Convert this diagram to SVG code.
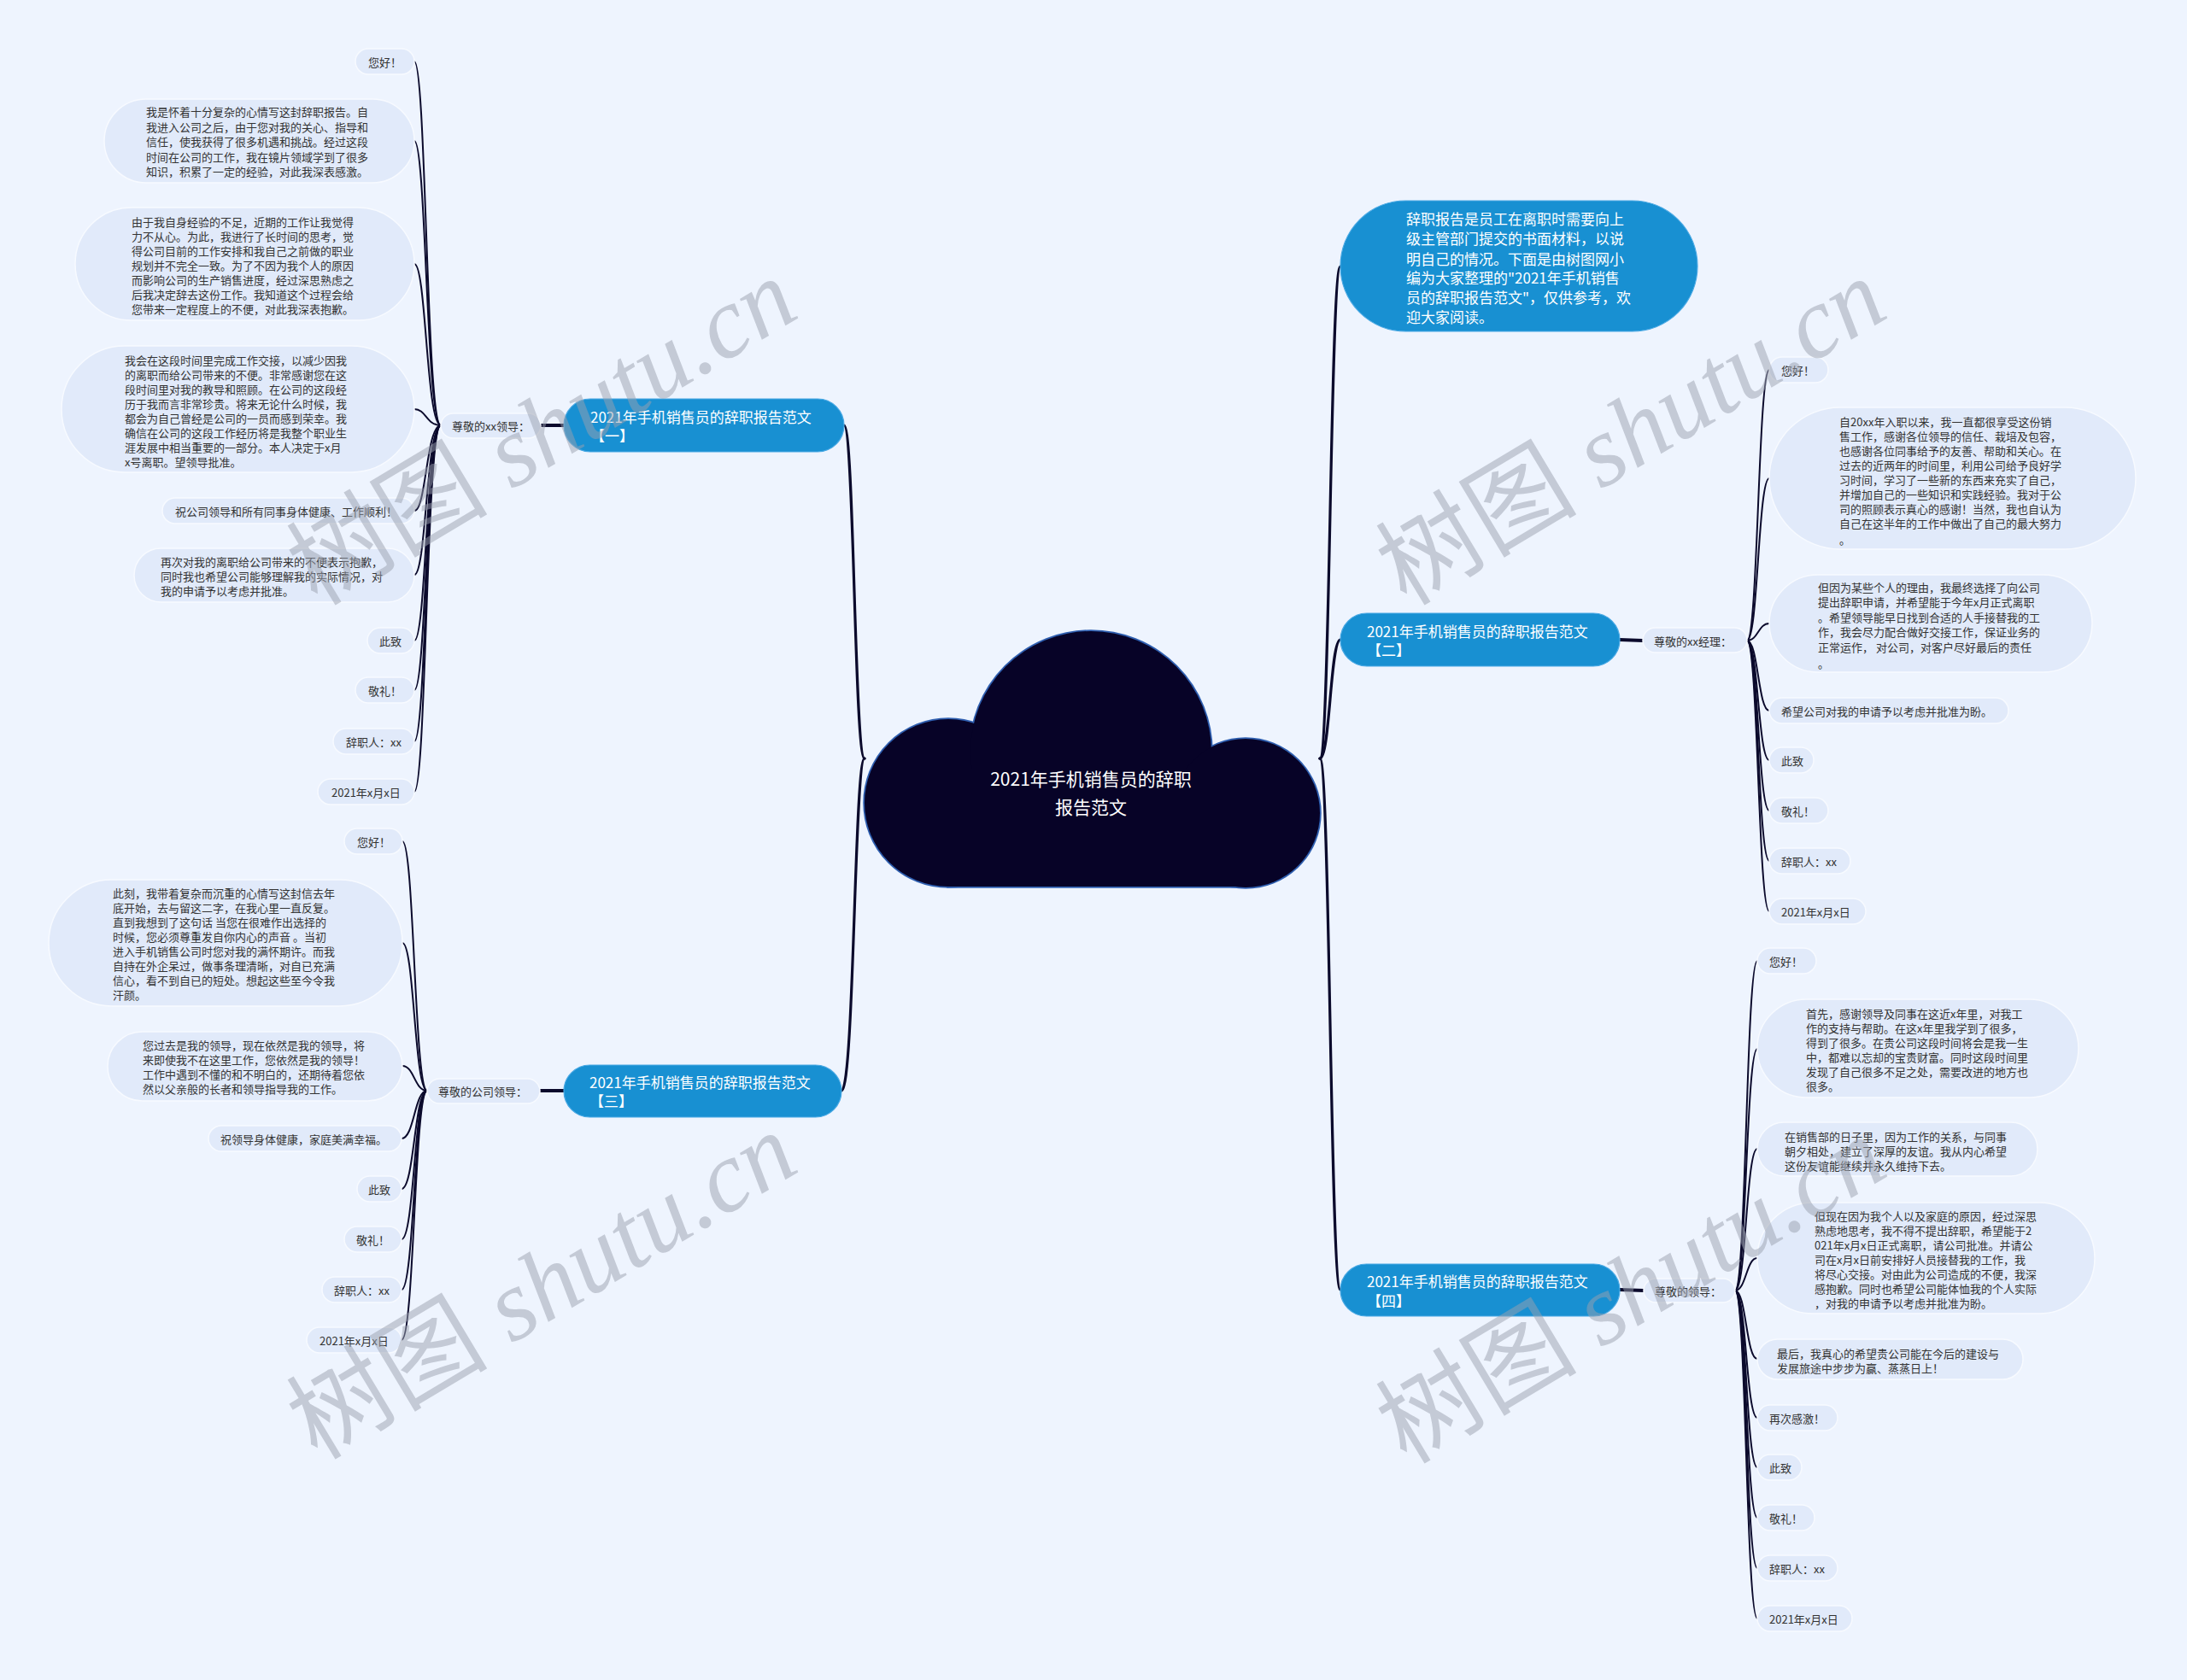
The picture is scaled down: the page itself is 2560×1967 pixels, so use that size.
<svg xmlns="http://www.w3.org/2000/svg" width="2560" height="1967" viewBox="0 0 2560 1967">
<style>
.bg{fill:#EEF4FE}
.leaf{fill:#E1EAFA;stroke:#F7FAFF;stroke-width:1.5}
.lt{font-family:"Noto Sans CJK SC","Noto Sans",sans-serif;font-size:13px;fill:#333333;dominant-baseline:central}
.main{fill:#1890D2;stroke:#48A8E4;stroke-width:1.2}
.mt{font-family:"Noto Sans CJK SC","Noto Sans",sans-serif;font-size:17px;fill:#FFFFFF;dominant-baseline:central}
.ct{font-family:"Noto Sans CJK SC","Noto Sans",sans-serif;font-size:21px;fill:#FFFFFF;dominant-baseline:central;text-anchor:middle}
.c1{fill:none;stroke:#0B0A2C;stroke-width:3.2;stroke-linecap:round}
.c2{fill:none;stroke:#0B0A2C;stroke-width:2;stroke-linecap:round}
.c3{fill:none;stroke:#0B0A2C;stroke-width:4}
.wm{font-family:"Liberation Serif","Noto Sans CJK SC",serif;font-size:118px;fill:#9AA0AE;fill-opacity:0.5;text-anchor:middle}
</style>
<rect class="bg" x="0" y="0" width="2560" height="1967"/>

<g id="connectors">
  <path class="c1" d="M1012 888 C1000 888 1000 498 988 498"/>
  <path class="c1" d="M1012 888 C1000 888 1000 1277 985 1277"/>
  <path class="c1" d="M1545 888 C1557 888 1557 312 1569 312"/>
  <path class="c1" d="M1545 888 C1557 888 1557 749 1569 749"/>
  <path class="c1" d="M1545 888 C1557 888 1557 1510 1569 1510"/>
  <path class="c3" d="M660 498 L633 498"/>
  <path class="c3" d="M660 1277 L632 1277"/>
  <path class="c3" d="M1896 749 L1923 750"/>
  <path class="c3" d="M1896 1510 L1924 1511"/>
  <path class="c2" d="M516 498 C499 498 499 72 485 72"/>
  <path class="c2" d="M516 498 C499 498 499 165 485 165"/>
  <path class="c2" d="M516 498 C499 498 499 309 485 309"/>
  <path class="c2" d="M516 498 C499 498 499 479 485 479"/>
  <path class="c2" d="M516 498 C499 498 499 598 485 598"/>
  <path class="c2" d="M516 498 C499 498 499 673 485 673"/>
  <path class="c2" d="M516 498 C499 498 499 750 485 750"/>
  <path class="c2" d="M516 498 C499 498 499 808 485 808"/>
  <path class="c2" d="M516 498 C499 498 499 868 485 868"/>
  <path class="c2" d="M516 498 C499 498 499 927 485 927"/>
  <path class="c2" d="M500 1277 C485 1277 485 985 471 985"/>
  <path class="c2" d="M500 1277 C485 1277 485 1104 471 1104"/>
  <path class="c2" d="M500 1277 C485 1277 485 1248 471 1248"/>
  <path class="c2" d="M500 1277 C485 1277 485 1333 470 1333"/>
  <path class="c2" d="M500 1277 C485 1277 485 1392 470 1392"/>
  <path class="c2" d="M500 1277 C485 1277 485 1451 470 1451"/>
  <path class="c2" d="M500 1277 C485 1277 485 1510 470 1510"/>
  <path class="c2" d="M500 1277 C485 1277 485 1569 470 1569"/>
  <path class="c2" d="M2045 750 C2058 750 2058 433 2071 433"/>
  <path class="c2" d="M2045 750 C2058 750 2058 560 2071 560"/>
  <path class="c2" d="M2045 750 C2058 750 2058 730 2071 730"/>
  <path class="c2" d="M2045 750 C2058 750 2058 832 2071 832"/>
  <path class="c2" d="M2045 750 C2058 750 2058 890 2071 890"/>
  <path class="c2" d="M2045 750 C2058 750 2058 949 2071 949"/>
  <path class="c2" d="M2045 750 C2058 750 2058 1008 2071 1008"/>
  <path class="c2" d="M2045 750 C2058 750 2058 1067 2071 1067"/>
  <path class="c2" d="M2031 1511 C2044 1511 2044 1125 2057 1125"/>
  <path class="c2" d="M2031 1511 C2044 1511 2044 1228 2057 1228"/>
  <path class="c2" d="M2031 1511 C2044 1511 2044 1345 2057 1345"/>
  <path class="c2" d="M2031 1511 C2044 1511 2044 1473 2057 1473"/>
  <path class="c2" d="M2031 1511 C2044 1511 2044 1591 2057 1591"/>
  <path class="c2" d="M2031 1511 C2044 1511 2044 1660 2057 1660"/>
  <path class="c2" d="M2031 1511 C2044 1511 2044 1718 2057 1718"/>
  <path class="c2" d="M2031 1511 C2044 1511 2044 1777 2057 1777"/>
  <path class="c2" d="M2031 1511 C2044 1511 2044 1836 2057 1836"/>
  <path class="c2" d="M2031 1511 C2044 1511 2044 1895 2057 1895"/>
</g>

<g id="root">
  <g fill="#070327" stroke="#2F5FB0" stroke-width="3.5">
    <circle cx="1110" cy="940" r="98"/>
    <circle cx="1277" cy="880" r="141"/>
    <circle cx="1458" cy="952" r="87"/>
    <rect x="1110" y="900" width="348" height="138"/>
  </g>
  <g fill="#070327">
    <circle cx="1110" cy="940" r="98"/>
    <circle cx="1277" cy="880" r="141"/>
    <circle cx="1458" cy="952" r="87"/>
    <rect x="1110" y="900" width="348" height="138"/>
  </g>
  <text class="ct"><tspan x="1277" y="911">2021年手机销售员的辞职</tspan><tspan x="1277" y="944">报告范文</tspan></text>
</g>

<g id="intro">
  <rect class="main" x="1569" y="235" width="418" height="153" rx="76.5"/>
  <text class="mt"><tspan x="1646" y="255">辞职报告是员工在离职时需要向上</tspan><tspan x="1646" y="278">级主管部门提交的书面材料，以说</tspan><tspan x="1646" y="302">明自己的情况。下面是由树图网小</tspan><tspan x="1646" y="324">编为大家整理的"2021年手机销售</tspan><tspan x="1646" y="347">员的辞职报告范文"，仅供参考，欢</tspan><tspan x="1646" y="370">迎大家阅读。</tspan></text>
</g>

<g id="branch1">
  <rect class="main" x="660" y="467" width="328" height="62" rx="31"/>
  <text class="mt"><tspan x="691" y="487">2021年手机销售员的辞职报告范文</tspan><tspan x="691" y="509">【一】</tspan></text>
</g>
<g id="branch2">
  <rect class="main" x="1569" y="718" width="327" height="62" rx="31"/>
  <text class="mt"><tspan x="1600" y="738">2021年手机销售员的辞职报告范文</tspan><tspan x="1600" y="760">【二】</tspan></text>
</g>
<g id="branch3">
  <rect class="main" x="660" y="1247" width="325" height="61" rx="30.5"/>
  <text class="mt"><tspan x="690" y="1266">2021年手机销售员的辞职报告范文</tspan><tspan x="690" y="1288">【三】</tspan></text>
</g>
<g id="branch4">
  <rect class="main" x="1569" y="1480" width="327" height="61" rx="30.5"/>
  <text class="mt"><tspan x="1600" y="1499">2021年手机销售员的辞职报告范文</tspan><tspan x="1600" y="1522">【四】</tspan></text>
</g>

<g id="label1"><rect class="leaf" x="516" y="484" width="117" height="29" rx="14.5"/><text class="lt" x="529" y="498">尊敬的xx领导：</text></g>
<g id="label2"><rect class="leaf" x="1923" y="735" width="122" height="29" rx="14.5"/><text class="lt" x="1936" y="750">尊敬的xx经理：</text></g>
<g id="label3"><rect class="leaf" x="500" y="1263" width="132" height="29" rx="14.5"/><text class="lt" x="513" y="1277">尊敬的公司领导：</text></g>
<g id="label4"><rect class="leaf" x="1924" y="1497" width="107" height="28" rx="14"/><text class="lt" x="1937" y="1511">尊敬的领导：</text></g>

<g id="b1-l1"><rect class="leaf" x="416" y="57" width="69" height="30" rx="15"/><text class="lt" x="431" y="72">您好！</text></g>
<g id="b1-l2"><rect class="leaf" x="122" y="116" width="363" height="98" rx="49"/><text class="lt"><tspan x="171" y="130">我是怀着十分复杂的心情写这封辞职报告。自</tspan><tspan x="171" y="148">我进入公司之后，由于您对我的关心、指导和</tspan><tspan x="171" y="165">信任，使我获得了很多机遇和挑战。经过这段</tspan><tspan x="171" y="183">时间在公司的工作，我在镜片领域学到了很多</tspan><tspan x="171" y="200">知识，积累了一定的经验，对此我深表感激。</tspan></text></g>
<g id="b1-l3"><rect class="leaf" x="88" y="243" width="397" height="132" rx="66"/><text class="lt"><tspan x="154" y="259">由于我自身经验的不足，近期的工作让我觉得</tspan><tspan x="154" y="276">力不从心。为此，我进行了长时间的思考，觉</tspan><tspan x="154" y="293">得公司目前的工作安排和我自己之前做的职业</tspan><tspan x="154" y="310">规划并不完全一致。为了不因为我个人的原因</tspan><tspan x="154" y="327">而影响公司的生产销售进度，经过深思熟虑之</tspan><tspan x="154" y="344">后我决定辞去这份工作。我知道这个过程会给</tspan><tspan x="154" y="361">您带来一定程度上的不便，对此我深表抱歉。</tspan></text></g>
<g id="b1-l4"><rect class="leaf" x="72" y="405" width="413" height="148" rx="74"/><text class="lt"><tspan x="146" y="421">我会在这段时间里完成工作交接，以减少因我</tspan><tspan x="146" y="438">的离职而给公司带来的不便。非常感谢您在这</tspan><tspan x="146" y="455">段时间里对我的教导和照顾。在公司的这段经</tspan><tspan x="146" y="472">历于我而言非常珍贵。将来无论什么时候，我</tspan><tspan x="146" y="489">都会为自己曾经是公司的一员而感到荣幸。我</tspan><tspan x="146" y="506">确信在公司的这段工作经历将是我整个职业生</tspan><tspan x="146" y="523">涯发展中相当重要的一部分。本人决定于x月</tspan><tspan x="146" y="540">x号离职。望领导批准。</tspan></text></g>
<g id="b1-l5"><rect class="leaf" x="190" y="583" width="295" height="30" rx="15"/><text class="lt" x="205" y="598">祝公司领导和所有同事身体健康、工作顺利！</text></g>
<g id="b1-l6"><rect class="leaf" x="157" y="642" width="328" height="63" rx="31.5"/><text class="lt"><tspan x="188" y="657">再次对我的离职给公司带来的不便表示抱歉，</tspan><tspan x="188" y="674">同时我也希望公司能够理解我的实际情况，对</tspan><tspan x="188" y="691">我的申请予以考虑并批准。</tspan></text></g>
<g id="b1-l7"><rect class="leaf" x="430" y="735" width="55" height="30" rx="15"/><text class="lt" x="444" y="750">此致</text></g>
<g id="b1-l8"><rect class="leaf" x="416" y="793" width="69" height="30" rx="15"/><text class="lt" x="431" y="808">敬礼！</text></g>
<g id="b1-l9"><rect class="leaf" x="390" y="853" width="95" height="30" rx="15"/><text class="lt" x="405" y="868">辞职人：xx</text></g>
<g id="b1-l10"><rect class="leaf" x="372" y="912" width="113" height="30" rx="15"/><text class="lt" x="388" y="927">2021年x月x日</text></g>

<g id="b3-l1"><rect class="leaf" x="403" y="970" width="68" height="30" rx="15"/><text class="lt" x="418" y="985">您好！</text></g>
<g id="b3-l2"><rect class="leaf" x="57" y="1030" width="414" height="148" rx="74"/><text class="lt"><tspan x="132" y="1045">此刻，我带着复杂而沉重的心情写这封信去年</tspan><tspan x="132" y="1062">底开始，去与留这二字，在我心里一直反复。</tspan><tspan x="132" y="1079">直到我想到了这句话 当您在很难作出选择的</tspan><tspan x="132" y="1096">时候，您必须尊重发自你内心的声音 。当初</tspan><tspan x="132" y="1113">进入手机销售公司时您对我的满怀期许。而我</tspan><tspan x="132" y="1130">自持在外企呆过，做事条理清晰，对自已充满</tspan><tspan x="132" y="1147">信心，看不到自已的短处。想起这些至今令我</tspan><tspan x="132" y="1164">汗颜。</tspan></text></g>
<g id="b3-l3"><rect class="leaf" x="126" y="1208" width="345" height="81" rx="40.5"/><text class="lt"><tspan x="167" y="1223">您过去是我的领导，现在依然是我的领导，将</tspan><tspan x="167" y="1240">来即使我不在这里工作，您依然是我的领导！</tspan><tspan x="167" y="1257">工作中遇到不懂的和不明白的，还期待着您依</tspan><tspan x="167" y="1274">然以父亲般的长者和领导指导我的工作。</tspan></text></g>
<g id="b3-l4"><rect class="leaf" x="244" y="1318" width="226" height="30" rx="15"/><text class="lt" x="258" y="1333">祝领导身体健康，家庭美满幸福。</text></g>
<g id="b3-l5"><rect class="leaf" x="418" y="1377" width="52" height="30" rx="15"/><text class="lt" x="431" y="1392">此致</text></g>
<g id="b3-l6"><rect class="leaf" x="403" y="1436" width="67" height="30" rx="15"/><text class="lt" x="417" y="1451">敬礼！</text></g>
<g id="b3-l7"><rect class="leaf" x="377" y="1495" width="93" height="30" rx="15"/><text class="lt" x="391" y="1510">辞职人：xx</text></g>
<g id="b3-l8"><rect class="leaf" x="359" y="1554" width="111" height="30" rx="15"/><text class="lt" x="374" y="1569">2021年x月x日</text></g>

<g id="b2-l1"><rect class="leaf" x="2071" y="418" width="69" height="30" rx="15"/><text class="lt" x="2085" y="433">您好！</text></g>
<g id="b2-l2"><rect class="leaf" x="2071" y="477" width="429" height="166" rx="83"/><text class="lt"><tspan x="2153" y="493">自20xx年入职以来，我一直都很享受这份销</tspan><tspan x="2153" y="510">售工作，感谢各位领导的信任、栽培及包容，</tspan><tspan x="2153" y="527">也感谢各位同事给予的友善、帮助和关心。在</tspan><tspan x="2153" y="544">过去的近两年的时间里，利用公司给予良好学</tspan><tspan x="2153" y="561">习时间，学习了一些新的东西来充实了自己，</tspan><tspan x="2153" y="578">并增加自己的一些知识和实践经验。我对于公</tspan><tspan x="2153" y="595">司的照顾表示真心的感谢！当然，我也自认为</tspan><tspan x="2153" y="612">自己在这半年的工作中做出了自己的最大努力</tspan><tspan x="2153" y="631">。</tspan></text></g>
<g id="b2-l3"><rect class="leaf" x="2071" y="673" width="378" height="114" rx="57"/><text class="lt"><tspan x="2128" y="687">但因为某些个人的理由，我最终选择了向公司</tspan><tspan x="2128" y="704">提出辞职申请，并希望能于今年x月正式离职</tspan><tspan x="2128" y="722">。希望领导能早日找到合适的人手接替我的工</tspan><tspan x="2128" y="739">作，我会尽力配合做好交接工作，保证业务的</tspan><tspan x="2128" y="757">正常运作， 对公司，对客户尽好最后的责任</tspan><tspan x="2128" y="776">。</tspan></text></g>
<g id="b2-l4"><rect class="leaf" x="2071" y="817" width="280" height="30" rx="15"/><text class="lt" x="2085" y="832">希望公司对我的申请予以考虑并批准为盼。</text></g>
<g id="b2-l5"><rect class="leaf" x="2071" y="875" width="52" height="30" rx="15"/><text class="lt" x="2085" y="890">此致</text></g>
<g id="b2-l6"><rect class="leaf" x="2071" y="934" width="69" height="30" rx="15"/><text class="lt" x="2085" y="949">敬礼！</text></g>
<g id="b2-l7"><rect class="leaf" x="2071" y="993" width="95" height="30" rx="15"/><text class="lt" x="2085" y="1008">辞职人：xx</text></g>
<g id="b2-l8"><rect class="leaf" x="2071" y="1052" width="113" height="30" rx="15"/><text class="lt" x="2085" y="1067">2021年x月x日</text></g>

<g id="b4-l1"><rect class="leaf" x="2057" y="1110" width="69" height="30" rx="15"/><text class="lt" x="2071" y="1125">您好！</text></g>
<g id="b4-l2"><rect class="leaf" x="2057" y="1170" width="376" height="115" rx="57.5"/><text class="lt"><tspan x="2114" y="1186">首先，感谢领导及同事在这近x年里，对我工</tspan><tspan x="2114" y="1203">作的支持与帮助。在这x年里我学到了很多，</tspan><tspan x="2114" y="1220">得到了很多。在贵公司这段时间将会是我一生</tspan><tspan x="2114" y="1237">中，都难以忘却的宝贵财富。同时这段时间里</tspan><tspan x="2114" y="1254">发现了自己很多不足之处，需要改进的地方也</tspan><tspan x="2114" y="1271">很多。</tspan></text></g>
<g id="b4-l3"><rect class="leaf" x="2057" y="1314" width="328" height="63" rx="31.5"/><text class="lt"><tspan x="2089" y="1330">在销售部的日子里，因为工作的关系，与同事</tspan><tspan x="2089" y="1347">朝夕相处，建立了深厚的友谊。我从内心希望</tspan><tspan x="2089" y="1364">这份友谊能继续并永久维持下去。</tspan></text></g>
<g id="b4-l4"><rect class="leaf" x="2057" y="1408" width="395" height="130" rx="65"/><text class="lt"><tspan x="2124" y="1423">但现在因为我个人以及家庭的原因，经过深思</tspan><tspan x="2124" y="1440">熟虑地思考，我不得不提出辞职，希望能于2</tspan><tspan x="2124" y="1457">021年x月x日正式离职，请公司批准。并请公</tspan><tspan x="2124" y="1474">司在x月x日前安排好人员接替我的工作，我</tspan><tspan x="2124" y="1491">将尽心交接。对由此为公司造成的不便，我深</tspan><tspan x="2124" y="1508">感抱歉。同时也希望公司能体恤我的个人实际</tspan><tspan x="2124" y="1525">，对我的申请予以考虑并批准为盼。</tspan></text></g>
<g id="b4-l5"><rect class="leaf" x="2057" y="1568" width="311" height="47" rx="23.5"/><text class="lt"><tspan x="2080" y="1584">最后，我真心的希望贵公司能在今后的建设与</tspan><tspan x="2080" y="1601">发展旅途中步步为赢、蒸蒸日上！</tspan></text></g>
<g id="b4-l6"><rect class="leaf" x="2057" y="1645" width="94" height="30" rx="15"/><text class="lt" x="2071" y="1660">再次感激！</text></g>
<g id="b4-l7"><rect class="leaf" x="2057" y="1703" width="52" height="30" rx="15"/><text class="lt" x="2071" y="1718">此致</text></g>
<g id="b4-l8"><rect class="leaf" x="2057" y="1762" width="67" height="30" rx="15"/><text class="lt" x="2071" y="1777">敬礼！</text></g>
<g id="b4-l9"><rect class="leaf" x="2057" y="1821" width="94" height="30" rx="15"/><text class="lt" x="2071" y="1836">辞职人：xx</text></g>
<g id="b4-l10"><rect class="leaf" x="2057" y="1880" width="111" height="30" rx="15"/><text class="lt" x="2071" y="1895">2021年x月x日</text></g>

<g id="watermarks">
  <text class="wm" transform="translate(655 540) rotate(-31)">树图 <tspan font-style="italic">shutu.cn</tspan></text>
  <text class="wm" transform="translate(1930 540) rotate(-31)">树图 <tspan font-style="italic">shutu.cn</tspan></text>
  <text class="wm" transform="translate(655 1540) rotate(-31)">树图 <tspan font-style="italic">shutu.cn</tspan></text>
  <text class="wm" transform="translate(1930 1545) rotate(-31)">树图 <tspan font-style="italic">shutu.cn</tspan></text>
</g>
</svg>
